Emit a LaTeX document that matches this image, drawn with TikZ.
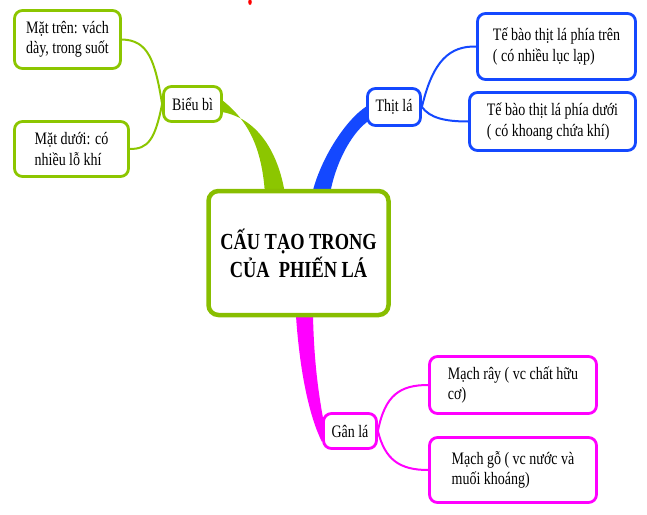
\documentclass[tikz,border=0pt]{standalone}
\usepackage{fontspec}
\setmainfont{Liberation Serif}
\newfontfamily\narrowfont[FakeStretch=0.8]{Liberation Serif}
\definecolor{lgreen}{RGB}{140,198,0}
\definecolor{cgreen}{RGB}{136,190,0}
\definecolor{mblue}{RGB}{20,72,255}
\definecolor{mmag}{RGB}{255,0,255}
\begin{document}
\begin{tikzpicture}[x=1pt,y=-1pt,
  leaf/.style={draw, line width=2.8pt, rounded corners=8pt, fill=white, inner sep=0pt,
    align=left, font=\narrowfont\fontsize{17.5}{20.5}\selectfont},
  gleaf/.style={leaf, draw=lgreen},
  bleaf/.style={leaf, draw=mblue},
  mleaf/.style={leaf, draw=mmag},
  thin/.style={line width=2pt}]
\useasboundingbox (0,0) rectangle (647,514);
\fill[red] (250,2) ellipse (1.8 and 3);
% tapered branches
\fill[lgreen] (222,100) .. controls (250,122) and (262,150) .. (265,194)
  -- (285,194) .. controls (278,150) and (256,118) .. (222,112) -- cycle;
\fill[mblue] (367,106) .. controls (345,120) and (320,160) .. (312,194)
  -- (330,194) .. controls (335,165) and (350,135) .. (367,122) -- cycle;
\fill[mmag] (296,316) .. controls (300,375) and (310,418) .. (322,442)
  -- (323,418) .. controls (318,390) and (314,360) .. (313,316) -- cycle;
% nodes
\node[draw=cgreen, line width=4.5pt, rounded corners=10pt, fill=white, minimum width=180pt,
  minimum height=124pt, inner sep=0pt, align=center,
  font=\narrowfont\fontsize{23}{28}\selectfont\bfseries] (center) at (298.5,253)
  {CẤU TẠO TRONG\\CỦA\ \ PHIẾN LÁ};
\node[gleaf, minimum width=58pt, minimum height=35pt] (bieubi) at (192.5,104) {Biểu bì};
\node[gleaf, minimum width=106pt, minimum height=58pt] (mattren) at (67.5,39.5) {Mặt trên: vách\\dày, trong suốt};
\node[gleaf, minimum width=114pt, minimum height=55pt] (matduoi) at (71.5,149) {Mặt dưới: có\\nhiều lỗ khí};
\node[bleaf, minimum width=53pt, minimum height=37pt] (thitla) at (394,107) {Thịt lá};
\node[bleaf, minimum width=158pt, minimum height=66pt] (tbtren) at (556.5,46.5) {Tế bào thịt lá phía trên\\( có nhiều lục lạp)};
\node[bleaf, minimum width=166pt, minimum height=58pt] (tbduoi) at (552.5,121.5) {Tế bào thịt lá phía dưới\\( có khoang chứa khí)};
\node[mleaf, minimum width=53pt, minimum height=35pt] (ganla) at (350,431) {Gân lá};
\node[mleaf, minimum width=167pt, minimum height=57pt] (machray) at (513,385) {Mạch rây ( vc chất hữu\\cơ)};
\node[mleaf, minimum width=167pt, minimum height=65pt] (machgo) at (513,470) {Mạch gỗ ( vc nước và\\muối khoáng)};
% thin connectors
\draw[thin, lgreen] (bieubi.west) .. controls (155,60) and (148,40) .. (mattren.east);
\draw[thin, lgreen] (bieubi.west) .. controls (155,140) and (148,149) .. (matduoi.east);
\draw[thin, mblue] (thitla.east) .. controls (433,60) and (450,46) .. (tbtren.west);
\draw[thin, mblue] (thitla.east) .. controls (430,118) and (445,121.5) .. (tbduoi.west);
\draw[thin, mmag] (ganla.east) .. controls (385,395) and (400,385) .. (machray.west);
\draw[thin, mmag] (ganla.east) .. controls (385,460) and (400,470) .. (machgo.west);
\end{tikzpicture}
\end{document}
